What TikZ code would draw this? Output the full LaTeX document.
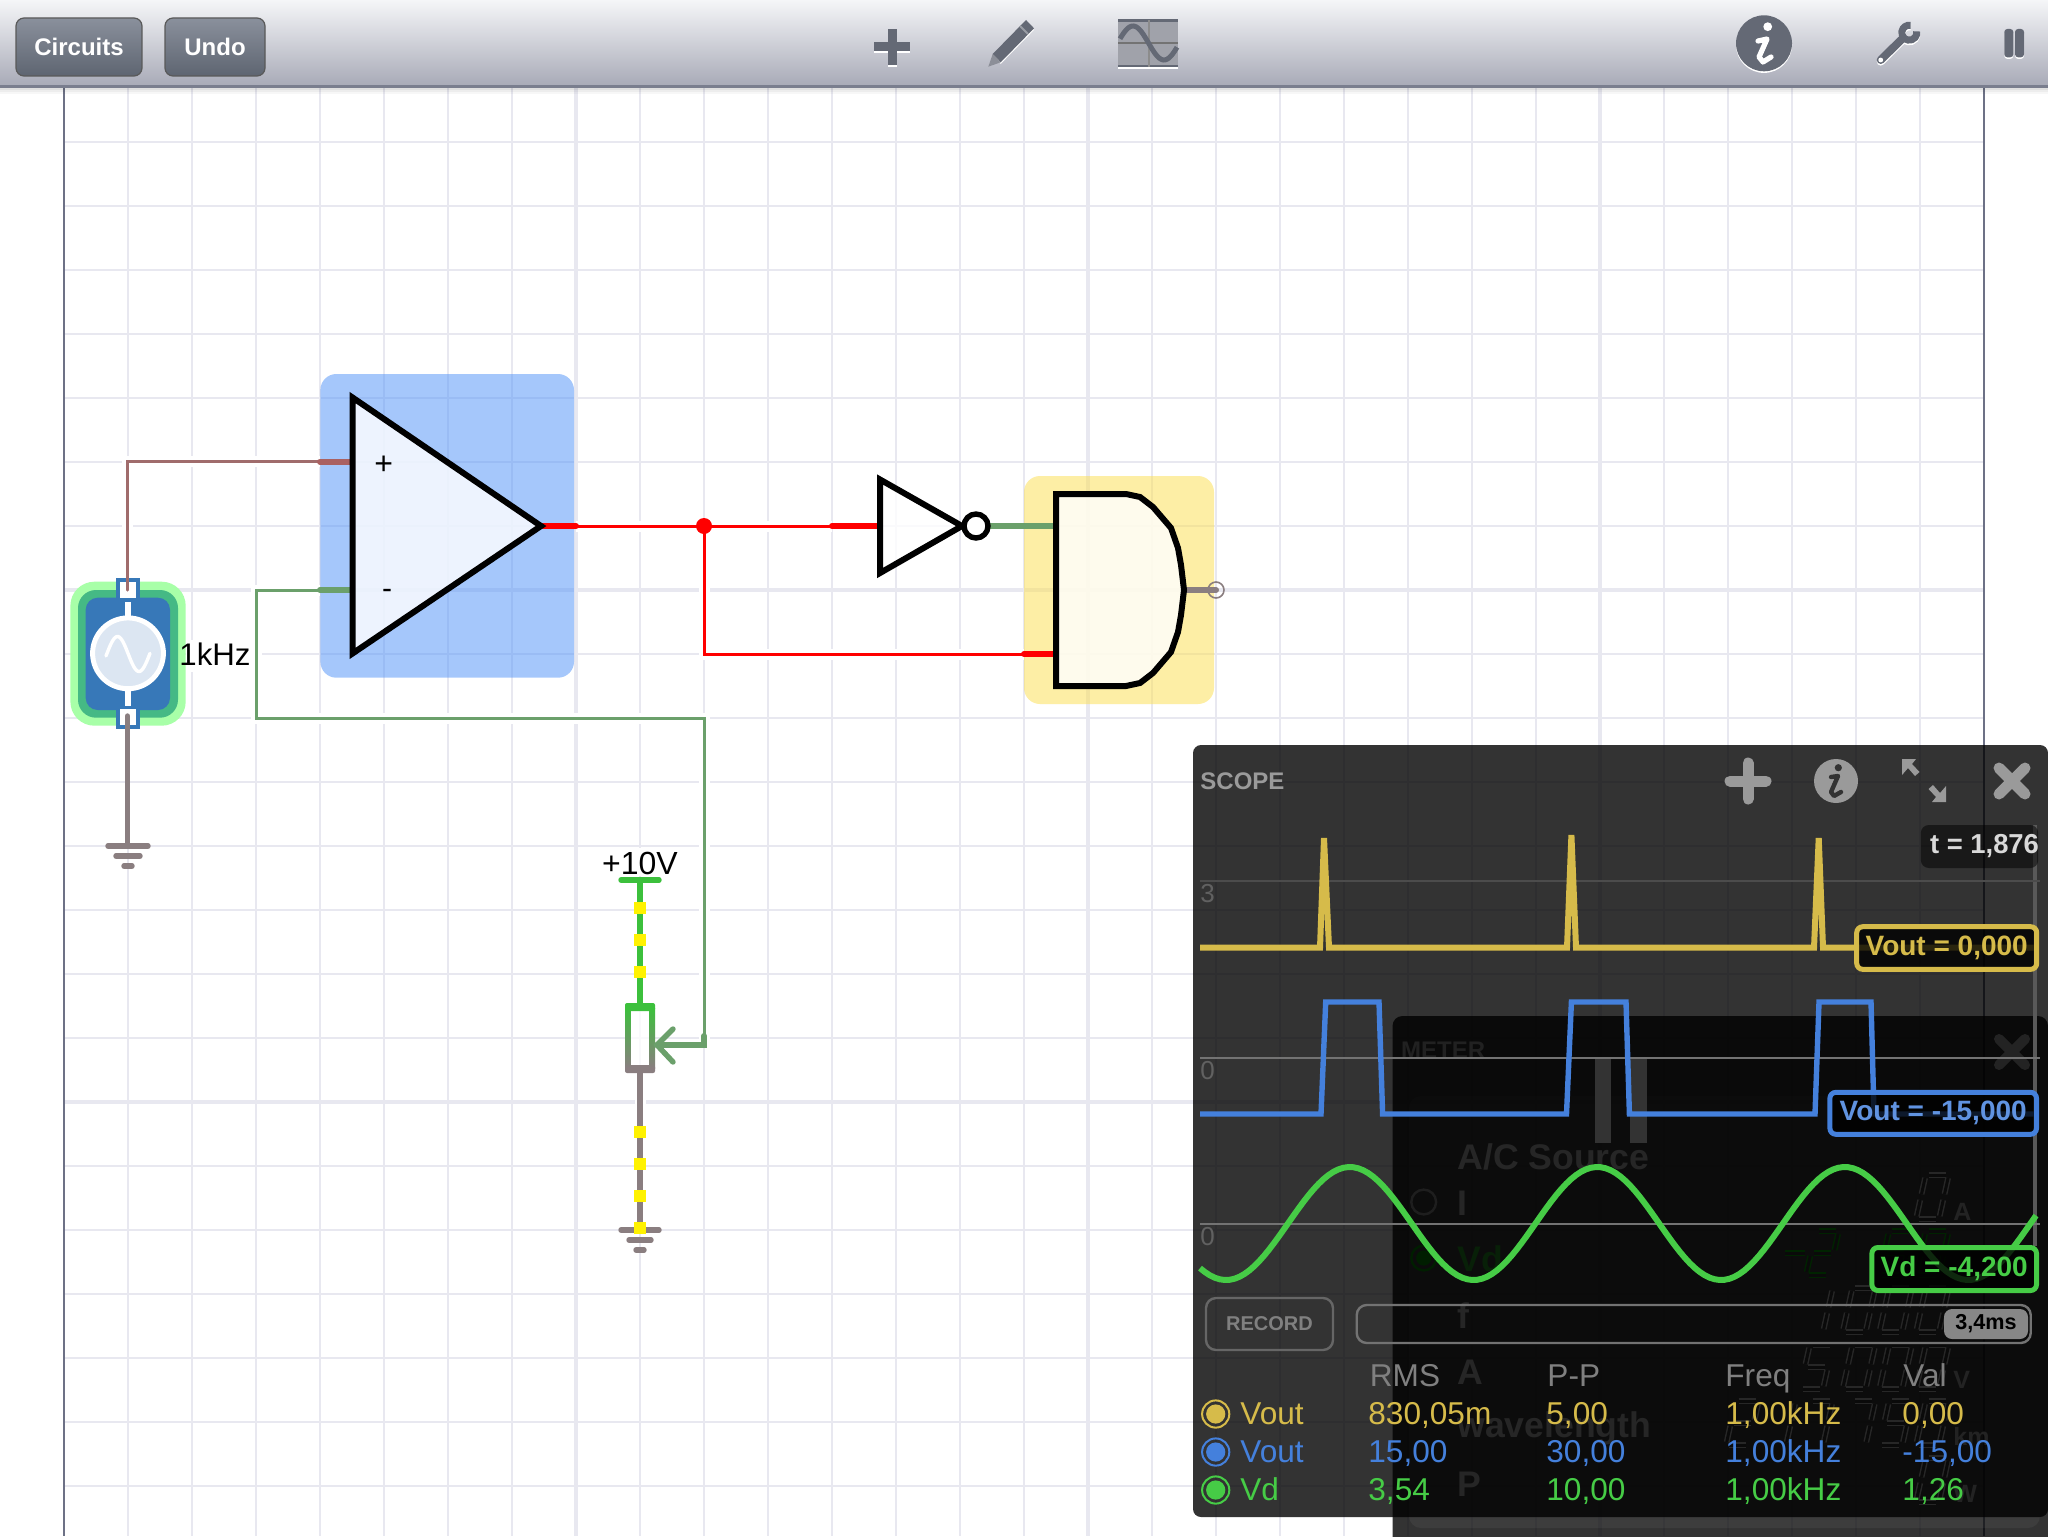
\documentclass[tikz,border=0pt]{standalone}
\usepackage{fontspec}
\setmainfont{Liberation Sans}
\usetikzlibrary{calc}
\definecolor{gridc}{HTML}{E8E8F0}
\definecolor{borderc}{HTML}{6D7186}
\definecolor{wbrown}{HTML}{A06C6C}
\definecolor{wgreen}{HTML}{6BA06B}
\definecolor{wgray}{HTML}{8A7E80}
\definecolor{wlime}{HTML}{3CC03C}
\definecolor{tbicon}{HTML}{646975}
\definecolor{ptyellow}{HTML}{D6BB4A}
\definecolor{ptblue}{HTML}{4480DC}
\definecolor{ptgreen}{HTML}{46CC46}
\definecolor{ptgray}{HTML}{9A9A9A}
\definecolor{btntop}{HTML}{8A909C}
\definecolor{btnbot}{HTML}{5E6571}
\tikzset{
  gridline/.style={draw=gridc,line width=1pt},
  majorline/.style={draw=gridc,line width=1.7pt},
  casing/.style={preaction={draw=white,line width=5.5pt}},
  thinwire/.style={line width=1.5pt,casing,line join=miter},
  stub/.style={line width=3pt,line cap=round},
  symb/.style={draw=black,line width=3pt,line join=miter},
  gnd/.style={draw=wgray,line width=2.7pt,line cap=round},
  yel/.style={fill=yellow},
  tbbtn/.style={rounded corners=4pt,draw=black!65,line width=.6pt,top color=btntop,bottom color=btnbot},
  btntext/.style={text=white,font=\fontsize{12}{14}\bfseries\selectfont},
  lab/.style={rounded corners=3pt,line width=2.5pt,fill=black,fill opacity=.8,text opacity=1,draw opacity=1,inner sep=0pt,font=\fontsize{14}{16}\bfseries\selectfont},
  tab/.style={anchor=base west,inner sep=0pt,font=\fontsize{15.8}{17}\selectfont},
  mtext/.style={anchor=west,inner sep=0pt,text=black!25,font=\fontsize{17.8}{19}\bfseries\selectfont},
  unit/.style={anchor=base west,inner sep=0pt,text=black!30,font=\fontsize{12.5}{14}\bfseries\selectfont},
  seg/.style={line width=.7pt,double distance=1.5pt,double=black!80,line cap=butt},
}
\def\segA{(3,0)--(20,0)}
\def\segB{(23,3)--(23,19)}
\def\segC{(23,25)--(23,41)}
\def\segD{(3,44)--(20,44)}
\def\segE{(0,25)--(0,41)}
\def\segF{(0,3)--(0,19)}
\def\segG{(3,22)--(20,22)}
\newcommand{\segdig}[4]{\begin{scope}[shift={(#1+9.7,#2)},xslant=.22]\foreach \onesg in {#3}{\draw[seg,draw=#4] \onesg;}\end{scope}}
\newcommand{\toolicons}[1]{%
  \fill[#1] (874,42.2) rectangle (910,51.2);
  \fill[#1] (887.5,29) rectangle (896.5,65);
  \fill[#1] (992.7,54)--(1026,20)--(1034,28.3)--(1000.7,62.3)--cycle;
  \fill[#1,rounded corners=1.5pt] (2004.3,29) rectangle (2013.3,57.3);
  \fill[#1,rounded corners=1.5pt] (2015,29) rectangle (2024,57.3);
  \fill[#1] (1764,43.3) circle (14pt);
  \draw[#1,line width=4pt,line cap=round] (1880.7,60)--(1903,38);
  \draw[#1,line width=3.5pt] (1910.6,25.3) arc[start angle=80,end angle=370,radius=3.75pt];
}
\begin{document}
\begin{tikzpicture}[x=0.5pt,y=-0.5pt]
\useasboundingbox (0,0) rectangle (2048,1536);
\clip (0,0) rectangle (2048,1536);
\fill[white] (0,0) rectangle (2048,1536);
% grid
\foreach \g in {128,192,256,320,384,448,512,640,704,768,832,896,960,1024,1152,1216,1280,1344,1408,1472,1536,1664,1728,1792,1856,1920}{\draw[gridline] (\g,78)--(\g,1536);}
\foreach \g in {576,1088,1600}{\draw[majorline] (\g,78)--(\g,1536);}
\foreach \g in {142,206,270,334,398,462,526,654,718,782,846,910,974,1038,1166,1230,1294,1358,1422,1486}{\draw[gridline] (64,\g)--(1984,\g);}
\foreach \g in {590,1102}{\draw[majorline] (64,\g)--(1984,\g);}
\draw[draw=borderc,line width=1pt] (64,78)--(64,1536);
\draw[draw=borderc,line width=1pt] (1984,78)--(1984,1536);
\fill[white] (186,640) rectangle (262,672);
\fill[white] (600,848) rectangle (680,876);
% anchors of the connectors
\coordinate (srcT) at (127.5,590);
\coordinate (srcTurn) at (127.5,461.7);
\coordinate (plusOut) at (320,461.7);
\coordinate (plusIn) at (352,461.7);
\coordinate (minusOut) at (320,590);
\coordinate (minusIn) at (352,590);
\coordinate (fb1) at (256,590);
\coordinate (fb2) at (256,718);
\coordinate (fb3) at (704,718);
\coordinate (wiperTop) at (704,1036);
\coordinate (wiperEnd) at (704,1045);
\coordinate (wiperTip) at (657,1045);
\coordinate (ampTip) at (543,526);
\coordinate (ampStub) at (576,526);
\coordinate (split) at (704,526);
\coordinate (invStub) at (832,526);
\coordinate (invIn) at (880,526);
\coordinate (down) at (704,654);
\coordinate (andStub) at (1024,654);
\coordinate (andIn) at (1056,654);
\coordinate (andTop) at (1056,526);
\coordinate (bubbleOut) at (990,526);
\coordinate (andOut) at (1184,590);
\coordinate (probe) at (1216,590);
\coordinate (srcB) at (127.5,716);
\coordinate (gndA) at (127.5,846);
\coordinate (vTop) at (640,880);
\coordinate (potTop) at (640,1006);
\coordinate (potBot) at (640,1070);
\coordinate (gndB) at (640,1230);
% wires
\draw[thinwire,draw=wbrown] (srcT)--(srcTurn)--(plusOut);
\draw[thinwire,draw=wgreen] (minusOut)--(fb1)--(fb2)--(fb3)--(wiperEnd);
\draw[thinwire,draw=red] (ampStub)--(invStub);
\draw[thinwire,draw=red] (split)--(down)--(andStub);
\draw[draw=wlime,line width=2.6pt,casing] (vTop)--(potTop);
\draw[draw=wgray,line width=2.6pt,casing] (potBot)--(gndB);
% op-amp
\fill[fill={rgb,255:red,77;green,145;blue,249},fill opacity=.5,rounded corners=8pt] (320.4,374) rectangle (574,677.7);
\draw[stub,draw=wbrown!90!red] (plusOut)--(plusIn);
\draw[stub,draw=wgreen] (minusOut)--(minusIn);
\draw[stub,draw=red] (ampTip)--(ampStub);
\draw[symb,fill=white,fill opacity=.8,draw opacity=1] (352.5,397.5)--(541,526)--(352.5,653.5)--cycle;
\node[inner sep=0pt,font=\fontsize{16}{18}\selectfont] (ampPlus) at (383.6,465) {+};
\node[inner sep=0pt,font=\fontsize{15}{17}\selectfont] (ampMinus) at (387,594) {-};
% junction
\fill[red] (split) circle (4pt);
% inverter
\draw[stub,draw=red] (invStub)--(invIn);
\draw[symb,fill=white,fill opacity=.8,draw opacity=1] (880,479.5)--(962,526)--(880,573)--cycle;
% and gate
\fill[fill={rgb,255:red,253;green,223;blue,77},fill opacity=.5,rounded corners=8pt] (1024,476) rectangle (1214,704);
\draw[stub,draw=wgreen,line cap=butt] (bubbleOut)--(andTop);
\draw[stub,draw=red] (andStub)--(andIn);
\draw[stub,draw=wgray] (andOut)--(probe);
\draw[draw=wgray,line width=.8pt] (probe) circle (4pt);
\draw[symb,fill=white,fill opacity=.8,draw opacity=1] (1056,494)--(1126,494)--(1140,497)--(1153,507)--(1171,528)--(1178,548)--(1181,565)--(1184,590)--(1181,615)--(1178,632)--(1171,652)--(1153,673)--(1140,683)--(1126,686)--(1056,686)--cycle;
\draw[draw=black,line width=2.7pt,fill=white] (976,526) circle (6pt);
% source
\fill[fill={rgb,255:red,168;green,255;blue,168},rounded corners=12pt] (70.4,581.7) rectangle (185.7,725.7);
\fill[fill={rgb,255:red,69;green,185;blue,133},rounded corners=9pt] (78,590) rectangle (178,717.7);
\fill[fill={rgb,255:red,55;green,120;blue,184},rounded corners=6pt] (85.7,597.7) rectangle (170,710);
\fill[white] (124.7,601.7) rectangle (131.3,706);
\draw[draw=white,line width=2.5pt,fill={rgb,255:red,220;green,230;blue,242}] (128,653.3) circle (17.7pt);
\draw[draw=white,line width=1.7pt,line cap=round] plot[domain=106:150,samples=40] (\x,{654-17.5*cos((\x-117.5)/43*360)});
\fill[fill={rgb,255:red,55;green,120;blue,184}] (116,578) rectangle (140,598);
\fill[white] (120,582) rectangle (136.4,598);
\fill[fill={rgb,255:red,55;green,120;blue,184}] (116,709) rectangle (140,729);
\fill[white] (120,709) rectangle (136.4,725);
\draw[draw=wbrown,line width=1.7pt,line cap=round] (srcTurn)--(srcT);
\draw[gnd] (srcB)--(gndA);
\draw[gnd] (108,846)--(148,846);
\draw[gnd] (116,856)--(140,856);
\draw[gnd] (124,866)--(132,866);
\node[anchor=base west,inner sep=0pt,font=\fontsize{15.6}{17}\selectfont] (freq) at (179,665) {1kHz};
% potentiometer
\node[inner sep=0pt,anchor=base,font=\fontsize{16}{18}\selectfont] (vsup) at (640,874) {+10V};
\draw[draw=wlime,line width=2.7pt,line cap=round] (621,880)--(659,880);
\foreach \q in {908,940,972,1132,1164,1196}{\fill[yel] (634,\q-6) rectangle (646,\q+6);}
\fill[white,opacity=.75] (630,1008) rectangle (650,1068);
\fill[wlime,rounded corners=1pt] (625,1003) rectangle (655,1011);
\fill[wgray,rounded corners=1pt] (625,1065) rectangle (655,1073);
\shade[top color=wlime,bottom color=wgray] (625,1008) rectangle (630.5,1068);
\shade[top color=wlime,bottom color=wgray] (649.5,1008) rectangle (655,1068);
\draw[draw=wgreen,line width=3pt,line cap=round] (wiperTop)--(wiperEnd)--(wiperTip);
\draw[draw=wgreen,line width=2.7pt,line cap=round] (673,1029)--(wiperTip)--(673,1062);
\draw[gnd] (621,1230)--(659,1230);
\draw[gnd] (629,1240)--(651,1240);
\draw[gnd] (636,1250)--(644,1250);
\fill[yel] (634,1222) rectangle (646,1234);
% METER panel
\fill[black,opacity=.8,rounded corners=5pt] (1392.5,1016) rectangle (2048,1560);
\fill[white,opacity=.05,rounded corners=6pt] (1409,1096) rectangle (2040,1528);
\fill[white] (1595,1058) rectangle (1611,1143);
\fill[white] (1630,1058) rectangle (1647,1143);
\node[anchor=west,inner sep=0pt,text=black!35,font=\fontsize{12}{14}\bfseries\selectfont] (meterT) at (1400.7,1050) {METER};
\draw[draw=black!30,line width=5pt,line cap=round] (1999,1039)--(2025,1065);
\draw[draw=black!30,line width=5pt,line cap=round] (2025,1039)--(1999,1065);
\node[mtext] (mAC) at (1457,1157) {A/C Source};
\node[mtext] (mI) at (1457,1203) {I};
\node[mtext,text={rgb,255:red,40;green,160;blue,40}] (mV) at (1457,1259) {Vd};
\node[mtext] (mf) at (1457,1316) {f};
\node[mtext] (mA) at (1457,1372) {A};
\node[mtext] (mw) at (1457,1428) {wavelength};
\node[mtext] (mP) at (1457,1484) {P};
\draw[draw=black!40,line width=1.2pt] (1423.7,1202) circle (6.2pt);
\draw[draw=black!40!green,line width=1.2pt] (1423.7,1258) circle (6.2pt);
\fill[green!60!black] (1423.7,1258) circle (3.8pt);
\node[unit] (uA) at (1953,1220) {A};
\node[unit] (uV) at (1953,1388) {V};
\node[unit] (ukm) at (1953,1445) {km};
\node[unit] (uW) at (1953,1502) {W};
\colorlet{dg}{black!22}
\colorlet{dgg}{green!70!black}
\segdig{1916}{1175}{\segA,\segB,\segC,\segD,\segE,\segF}{dg}
\segdig{1916}{1231}{\segA,\segB,\segC,\segD,\segE,\segF}{dgg}
\segdig{1879.3}{1231}{\segA,\segC,\segD,\segF,\segG}{dgg}
\segdig{1806}{1231}{\segA,\segB,\segD,\segE,\segG}{dgg}
\draw[seg,draw=dgg] (1785,1253)--(1805,1253);
\foreach \xx in {1916,1879.3,1842.6}{\segdig{\xx}{1288}{\segA,\segB,\segC,\segD,\segE,\segF}{dg}}
\segdig{1800}{1288}{\segB,\segC}{dg}
\foreach \xx in {1916,1879.3,1842.6}{\segdig{\xx}{1345}{\segA,\segB,\segC,\segD,\segE,\segF}{dg}}
\segdig{1800}{1345}{\segA,\segC,\segD,\segF,\segG}{dg}
\segdig{1726}{1401}{\segA,\segB,\segD,\segE,\segG}{dg}
\segdig{1763}{1401}{\segB,\segC}{dg}
\segdig{1800}{1401}{\segA,\segB,\segC}{dg}
\segdig{1842.6}{1401}{\segA,\segB,\segC}{dg}
\segdig{1879.3}{1401}{\segA,\segC,\segD,\segF,\segG}{dg}
\segdig{1916}{1401}{\segA,\segB,\segC,\segD,\segE,\segF}{dg}
\segdig{1916}{1458}{\segA,\segB,\segC,\segD,\segE,\segF}{dg}
% SCOPE panel
\fill[black,opacity=.8,rounded corners=4pt] (1193,745) rectangle (2048,1517);
\node[anchor=west,inner sep=0pt,text=ptgray,font=\fontsize{12}{14}\bfseries\selectfont] (scopeT) at (1200,781) {SCOPE};
\draw[draw=ptgray,line width=5.5pt,line cap=round] (1730,781)--(1766,781);
\draw[draw=ptgray,line width=5.5pt,line cap=round] (1748,763)--(1748,799);
\fill[ptgray] (1836,781) circle (11pt);
\fill[black!80] (1838.3,767.7) circle (1.8pt);
\draw[draw=black!80,line width=2.2pt,line join=round,line cap=round] (1831,777)--(1838,776)--(1831,792)--(1834,796)--(1841,792);
\fill[ptgray] (1902,759)--(1916,759)--(1912,764)--(1919.5,772)--(1915,776)--(1908,768)--(1902,775)--cycle;
\fill[ptgray] (1946,802)--(1932,802)--(1936,797)--(1928.5,789)--(1933,785)--(1940,793)--(1946,786)--cycle;
\draw[draw=ptgray,line width=5.5pt,line cap=round] (1999,768)--(2025,794);
\draw[draw=ptgray,line width=5.5pt,line cap=round] (2025,768)--(1999,794);
\draw[draw=black!65,line width=2pt] (2035,825)--(2035,1246);
\draw[draw=black!70,line width=.8pt] (1200,881)--(2040,881);
\draw[draw=black!55,line width=1.2pt] (1200,1057.7)--(2040,1057.7);
\draw[draw=black!55,line width=1.2pt] (1200,1224)--(2040,1224);
\foreach \nm/\yy/\vv in {axA/894/3,axB/1071/0,axC/1237/0}{\node[anchor=west,inner sep=0pt,text=black!62,font=\fontsize{13}{15}\selectfont] (\nm) at (1200,\yy) {\vv};}
% traces
\draw[draw=ptyellow,line width=3pt,line join=miter,miter limit=20] (1200,947.7)--(1320,947.7)--(1324,838)--(1329,947.7)--(1567,947.7)--(1571.4,835)--(1576,947.7)--(1814,947.7)--(1818.7,838)--(1823,947.7)--(2035,947.7);
\draw[draw=ptblue,line width=2.7pt] (1200,1114)--(1321,1114)--(1325.7,1002)--(1379,1002)--(1382.6,1114)--(1566.5,1114)--(1571.4,1002)--(1626,1002)--(1629.4,1114)--(1815,1114)--(1819,1002)--(1871,1002)--(1874,1114)--(2035,1114);
\draw[draw=ptgreen,line width=3pt] plot[domain=1200:2036,samples=170] (\x,{1223.5-56.5*cos((\x-1349.8)/247.5*360)});
% time tag
\node[fill=black,fill opacity=.5,rounded corners=4pt,minimum width=58.7pt,minimum height=21.5pt,inner sep=0pt] (ttag) at (1979.5,846.5) {};
\node[inner sep=0pt,text=black!15,font=\fontsize{13.7}{15}\bfseries\selectfont] (ttext) at (1984.5,846.5) {t = 1,876};
% value tags
\node[lab,draw=ptyellow,text=ptyellow,minimum width=90pt,minimum height=21.3pt] (lY) at (1946.7,948) {Vout = 0,000};
\node[lab,draw=ptblue,text=ptblue!85!white,minimum width=103.3pt,minimum height=21pt] (lB) at (1933.2,1113.3) {Vout = -15,000};
\node[lab,draw=ptgreen,text=ptgreen,minimum width=82.3pt,minimum height=21.5pt] (lG) at (1954.2,1269) {Vd = -4,200};
% record + slider
\node[draw=black!60,line width=1.2pt,rounded corners=5pt,minimum width=63.5pt,minimum height=26pt,inner sep=0pt,text=black!50,font=\fontsize{10}{12}\bfseries\selectfont] (rec) at (1269.5,1324) {RECORD};
\node[draw=black!55,line width=1.2pt,rounded corners=5pt,minimum width=337pt,minimum height=19pt,inner sep=0pt] (slider) at (1693.7,1324) {};
\node[fill=black!47,rounded corners=4pt,minimum width=42pt,minimum height=15pt,inner sep=0pt,text=black,font=\fontsize{10.8}{12}\bfseries\selectfont] (thumb) at (1986,1324) {3,4ms};
% table
\foreach \nm/\xx/\hd in {hR/1369.5/RMS,hP/1547/P-P,hF/1725/Freq,hV/1903/Val}{\node[tab,text=black!50] (\nm) at (\xx,1386) {\hd};}
\foreach \nm/\yy/\cc/\vn in {ry/1424/ptyellow/Vout,rb/1462/ptblue/Vout,rg/1500/ptgreen/Vd}{
  \node[tab,text=\cc] (\nm) at (1240,\yy) {\vn};
  \draw[draw=\cc,line width=1pt] (1215.7,\yy-10) circle (6.8pt);
  \fill[\cc] (1215.7,\yy-10) circle (4.8pt);
}
\node[tab,text=ptyellow] (a1) at (1368,1424) {830,05m};
\node[tab,text=ptyellow] (a2) at (1546,1424) {5,00};
\node[tab,text=ptyellow] (a3) at (1725,1424) {1,00kHz};
\node[tab,text=ptyellow] (a4) at (1902,1424) {0,00};
\node[tab,text=ptblue] (b1) at (1368,1462) {15,00};
\node[tab,text=ptblue] (b2) at (1546,1462) {30,00};
\node[tab,text=ptblue] (b3) at (1725,1462) {1,00kHz};
\node[tab,text=ptblue] (b4) at (1902,1462) {-15,00};
\node[tab,text=ptgreen] (c1) at (1368,1500) {3,54};
\node[tab,text=ptgreen] (c2) at (1546,1500) {10,00};
\node[tab,text=ptgreen] (c3) at (1725,1500) {1,00kHz};
\node[tab,text=ptgreen] (c4) at (1902,1500) {1,26};
% toolbar
\fill[black,opacity=.12] (0,88) rectangle (2048,90);
\fill[black,opacity=.07] (0,90) rectangle (2048,92);
\fill[black,opacity=.03] (0,92) rectangle (2048,94);
\shade[top color={rgb,255:red,245;green,246;blue,248},middle color={rgb,255:red,218;green,220;blue,226},bottom color={rgb,255:red,168;green,170;blue,183}] (0,0) rectangle (2048,86);
\fill[fill={rgb,255:red,122;green,126;blue,142}] (0,85.5) rectangle (2048,88);
\node[tbbtn,minimum width=63pt,minimum height=29pt,inner sep=0pt,btntext] (btnC) at (79,47) {Circuits};
\node[tbbtn,minimum width=50pt,minimum height=29pt,inner sep=0pt,btntext] (btnU) at (215,47) {Undo};
\begin{scope}[yshift=-.8pt]
\toolicons{white}
\draw[white,line width=1pt] (1118,66.7)--(1178,66.7);
\end{scope}
\toolicons{tbicon}
\fill[fill={rgb,255:red,140;green,143;blue,152}] (988.3,66.7)--(992.7,54)--(1000.7,62.3)--cycle;
\draw[draw=white!35!tbicon,line width=1pt] (1020,26)--(1028,34);
\fill[white] (1767.7,26.7) circle (2.2pt);
\draw[draw=white,line width=2.6pt,line join=round,line cap=round] (1758,41)--(1767,39)--(1759,57)--(1763,62)--(1771,57);
\fill[white] (1880.7,60) circle (1.2pt);
\fill[fill={rgb,255:red,160;green,162;blue,170}] (1118,20) rectangle (1178,67);
\draw[draw=tbicon,line width=1.2pt] (1118,20.5)--(1178,20.5);
\draw[draw=tbicon,line width=1.2pt] (1118,66)--(1178,66);
\draw[draw=black!45,line width=.7pt] (1149,20)--(1149,67);
\draw[draw=black!55,line width=.7pt] (1118,43)--(1178,43);
\draw[draw=tbicon,line width=2.5pt] plot[domain=1120:1177,samples=40] (\x,{43-17*cos((\x-1133)/62*360)});
\end{tikzpicture}
\end{document}
